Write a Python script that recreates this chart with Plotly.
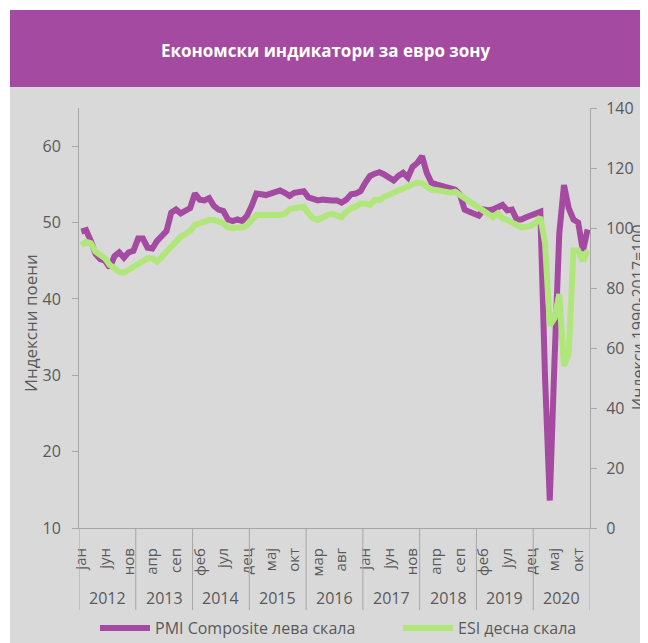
import plotly.graph_objects as go

# ---------------- data ----------------
MONTH_NAMES = ["јан", "феб", "мар", "апр", "мај", "јун", "јул", "авг", "сеп", "окт", "нов", "дец"]
YEARS = [2012, 2013, 2014, 2015, 2016, 2017, 2018, 2019, 2020]

PMI_COMPOSITE = [
    48.8, 49.0, 47.6, 45.9, 45.2, 45.0, 44.1, 45.6, 46.1, 45.4, 46.1, 46.3,   # 2012
    47.9, 47.9, 46.7, 46.6, 47.6, 48.3, 48.9, 51.3, 51.7, 51.2, 51.5, 51.9,   # 2013
    53.8, 53.0, 52.9, 53.2, 52.2, 51.7, 51.5, 50.4, 50.2, 50.4, 50.2, 50.9,   # 2014
    52.2, 53.8, 53.7, 53.6, 53.8, 54.1, 54.2, 53.9, 53.5, 53.9, 54.1, 54.1,   # 2015
    53.3, 53.0, 52.9, 53.0, 52.9, 52.9, 52.9, 52.6, 53.0, 53.7, 53.8, 54.1,   # 2016
    55.2, 56.1, 56.4, 56.6, 56.3, 55.8, 55.5, 56.1, 56.5, 55.9, 57.3, 57.8,   # 2017
    58.7, 56.5, 55.2, 55.0, 54.8, 54.8, 54.6, 54.3, 53.7, 51.7, 51.4, 51.1,   # 2018
    50.9, 51.7, 51.6, 51.7, 52.1, 52.3, 51.6, 51.7, 50.4, 50.4, 50.7, 50.9,   # 2019
    51.2, 51.4, 29.7, 13.6, 31.9, 48.5, 54.9, 51.9, 50.4, 50.0, 46.3, 49.1,   # 2020
]

ESI = [
    94.3, 95.4, 94.9, 92.1, 91.0, 89.9, 87.7, 86.6, 85.4, 85.1, 86.0, 87.1,            # 2012
    88.0, 89.1, 89.9, 89.9, 88.8, 90.4, 92.1, 93.8, 96.0, 97.1, 98.0, 99.1,            # 2013
    101.0, 101.6, 102.4, 102.7, 102.7, 102.4, 101.6, 100.2, 99.9, 100.2, 100.2, 101.0, # 2014
    102.7, 104.3, 104.3, 104.3, 104.0, 104.0, 104.3, 104.7, 106.2, 106.6, 106.6, 107.1,# 2015
    104.9, 103.2, 102.7, 103.8, 104.3, 104.7, 104.3, 103.6, 105.4, 106.6, 107.1, 108.2,# 2016
    108.2, 107.7, 109.3, 109.3, 110.4, 111.0, 111.6, 112.4, 113.2, 113.8, 114.6, 115.1,# 2017
    114.9, 113.8, 112.7, 112.7, 112.4, 112.1, 111.8, 112.1, 111.0, 109.9, 108.8, 107.7,# 2018
    106.6, 106.0, 104.9, 103.6, 104.9, 103.2, 102.7, 102.1, 101.0, 100.2, 100.2, 100.7,# 2019
    101.6, 103.6, 95.0, 67.5, 70.0, 78.0, 54.0, 58.0, 92.5, 92.5, 89.0, 92.5,          # 2020
]

SERIES_NAMES = ["PMI Composite лева скала", "ESI десна скала"]
TITLE = "Економски индикатори за евро зону"
LEFT_TITLE = "Индексни поени"
RIGHT_TITLE = "Индекси 1990-2017=100"
LABEL_STEP = 5

# ---------------- styling ----------------
PURPLE = "#a44aa1"
GREEN = "#b1e67b"
PANEL = "#d9d9d9"
GRID = "#d9d9d9"
AXIS = "#a6a6a6"
TXT = "#595959"
FONT = "Open Sans, Noto Sans, DejaVu Sans, sans-serif"

OFF = 8                           # page offset of the figure (browser body margin)
W, H = 648 - OFF, 643 - OFF + 20  # figure size (extra room below the window for the legend)
# plot-area box, in page pixels
PL, PR, PT, PB = 79, 590, 108, 528


def px_x(p):
    return (p - PL) / (PR - PL)


def px_y(p):
    return (PB - p) / (PB - PT)


n = len(PMI_COMPOSITE)
idx = list(range(n))
tickvals = idx[::LABEL_STEP]
ticktext = [MONTH_NAMES[i % 12] for i in tickvals]

fig = go.Figure()
fig.add_trace(go.Scatter(x=idx, y=PMI_COMPOSITE, mode="lines", name=SERIES_NAMES[0],
                         line=dict(color=PURPLE, width=6), legend="legend"))
fig.add_trace(go.Scatter(x=idx, y=ESI, mode="lines", name=SERIES_NAMES[1], yaxis="y2",
                         line=dict(color=GREEN, width=6), legend="legend2"))

shapes = [
    # grey panel
    dict(type="rect", xref="paper", yref="paper", x0=px_x(10), x1=px_x(680),
         y0=px_y(700), y1=px_y(87), fillcolor=PANEL, line=dict(width=0), layer="below"),
    # purple header
    dict(type="rect", xref="paper", yref="paper", x0=px_x(10), x1=px_x(680),
         y0=px_y(87), y1=px_y(10), fillcolor=PURPLE, line=dict(width=0), layer="below"),
]
# year separators
for k in range(len(YEARS) + 1):
    shapes.append(dict(type="line", xref="x", yref="paper", x0=12 * k - 0.5, x1=12 * k - 0.5,
                       y0=0, y1=px_y(610), line=dict(color=AXIS, width=1)))

annotations = [
    dict(text=f"<b>{TITLE}</b>", xref="paper", yref="paper", x=px_x(326), y=px_y(50),
         showarrow=False, font=dict(family=FONT, size=17, color="white"),
         xanchor="center", yanchor="middle"),
    dict(text=LEFT_TITLE, xref="paper", yref="paper", x=px_x(30), y=px_y(323),
         textangle=-90, showarrow=False, font=dict(family=FONT, size=17, color=TXT),
         xanchor="center", yanchor="middle"),
    dict(text=RIGHT_TITLE, xref="paper", yref="paper", x=px_x(638), y=px_y(317),
         textangle=-90, showarrow=False, font=dict(family=FONT, size=16, color=TXT),
         xanchor="center", yanchor="middle"),
]
for k, yr in enumerate(YEARS):
    annotations.append(dict(text=str(yr), xref="x", yref="paper", x=12 * k + 5.5, y=px_y(598),
                            showarrow=False, font=dict(family=FONT, size=16, color=TXT),
                            xanchor="center", yanchor="middle"))

legend_common = dict(orientation="h", y=px_y(628), xanchor="left", yanchor="middle",
                     font=dict(family=FONT, size=16, color=TXT), bgcolor="rgba(0,0,0,0)",
                     itemwidth=50)

fig.update_layout(
    width=W, height=H,
    margin=dict(l=PL - OFF, r=W - (PR - OFF), t=PT - OFF, b=H - (PB - OFF), pad=0),
    paper_bgcolor="white", plot_bgcolor="white",
    font=dict(family=FONT, size=15, color=TXT),
    showlegend=True,
    legend=dict(x=px_x(95), **legend_common),
    legend2=dict(x=px_x(398), **legend_common),
    xaxis=dict(range=[-0.5, n - 0.5], tickmode="array", tickvals=tickvals, ticktext=ticktext,
               tickangle=-90, ticks="", showgrid=False, zeroline=False,
               showline=True, linecolor=AXIS, linewidth=1,
               tickfont=dict(family=FONT, size=15, color=TXT), ticklabelstandoff=13,
               minor=dict(tickmode="linear", tick0=-0.5, dtick=1, showgrid=True,
                          gridcolor=GRID, gridwidth=1, ticks="")),
    yaxis=dict(range=[10, 65], tickmode="array", tickvals=[10, 20, 30, 40, 50, 60],
               showgrid=True, gridcolor=GRID, gridwidth=1, zeroline=False,
               ticks="outside", ticklen=6, tickcolor=AXIS,
               showline=True, linecolor=AXIS, linewidth=1,
               tickfont=dict(family=FONT, size=16, color=TXT), ticklabelstandoff=8),
    yaxis2=dict(range=[0, 140], overlaying="y", side="right", tick0=0, dtick=20,
                showgrid=False, zeroline=False, ticks="outside", ticklen=6, tickcolor=AXIS,
                showline=True, linecolor=AXIS, linewidth=1,
                tickfont=dict(family=FONT, size=16, color=TXT), ticklabelstandoff=6),
    shapes=shapes,
    annotations=annotations,
)

fig.write_html("out.html")
